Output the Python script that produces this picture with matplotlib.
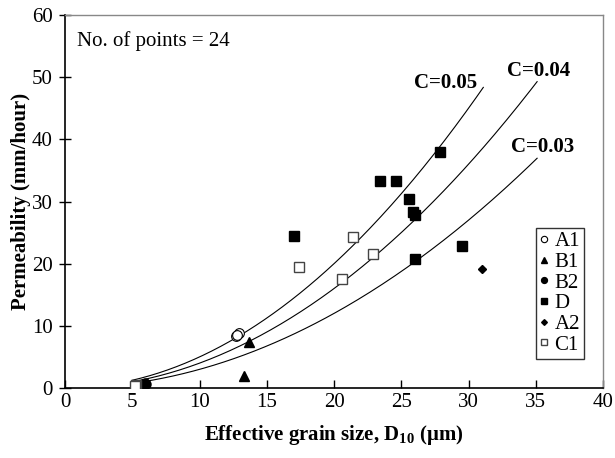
import numpy as np
import matplotlib
matplotlib.use("Agg")
import matplotlib.pyplot as plt

plt.rcParams['font.family'] = ['Liberation Serif', 'DejaVu Serif']
plt.rcParams['mathtext.fontset'] = 'custom'
plt.rcParams['mathtext.rm'] = 'Liberation Serif'
plt.rcParams['mathtext.bf'] = 'Liberation Serif:bold'

# measured points: D10 (um) vs permeability (mm/hour)
a1_x = [12.7, 12.9, 12.8]
a1_y = [8.3, 8.9, 8.6]
b1_x = [13.7, 13.3]
b1_y = [7.4, 2.0]
b2_x = [5.8, 5.95, 6.0]
b2_y = [0.6, 0.8, 0.7]
d_x = [23.4, 24.6, 25.6, 25.9, 26.0, 17.0, 26.0, 29.5, 27.9]
d_y = [33.3, 33.3, 30.4, 28.3, 27.9, 24.4, 20.8, 22.9, 37.9]
a2_x = [31.0]
a2_y = [19.1]
c1_x = [21.4, 22.9, 20.6, 17.4, 5.3, 5.2]
c1_y = [24.3, 21.6, 17.6, 19.5, 0.5, 0.3]

# Hazen type curves k = C * D10^2
c_vals = [0.05, 0.04, 0.03]
c_xmax = [31.1, 35.1, 35.1]
c_labels = ["C=0.05", "C=0.04", "C=0.03"]
c_lab_pos = [(28.3, 49.0), (35.2, 51.0), (35.5, 38.8)]

fig = plt.figure(figsize=(6.15, 4.58), dpi=100)
ax = fig.add_axes([0.1057, 0.1528, 0.8748, 0.8144])

for c, xm, lab, pos in zip(c_vals, c_xmax, c_labels, c_lab_pos):
    xs = np.linspace(5, xm, 200)
    ax.plot(xs, c * xs ** 2, color='black', lw=0.8)
    ax.text(pos[0], pos[1], lab, fontsize=15, fontweight='bold', ha='center', va='center')

ms = 6.5
ax.plot(a1_x, a1_y, 'o', mfc='white', mec='black', mew=0.8, ms=7, label='A1', zorder=3)
ax.plot(b1_x, b1_y, '^', color='black', ms=ms, label='B1', zorder=3)
ax.plot(b2_x, b2_y, 'o', color='black', ms=ms, label='B2', zorder=3)
ax.plot(d_x, d_y, 's', color='black', ms=ms, label='D', zorder=3)
ax.plot(a2_x, a2_y, 'D', color='black', ms=4.5, label='A2', zorder=3)
ax.plot(c1_x, c1_y, 's', mfc='white', mec='#444444', mew=1.0, ms=ms, label='C1', zorder=3)

ax.set_xlim(0, 40)
ax.set_ylim(0, 60)
ax.set_xticks(range(0, 41, 5))
ax.set_yticks(range(0, 61, 10))
ax.tick_params(axis='both', labelsize=15, width=1)
ax.tick_params(axis='x', direction='in', length=6)
ax.tick_params(axis='y', direction='inout', length=9, pad=4.5)
for s in ['left', 'bottom']:
    ax.spines[s].set_linewidth(1.2)
for s in ['top', 'right']:
    ax.spines[s].set_color('#888888')
    ax.spines[s].set_linewidth(1.0)

ax.set_xlabel("Effective grain size, D$_{\\mathbf{10}}$ (μm)", fontsize=15, fontweight='bold', labelpad=8)
ax.set_ylabel("Permeability (mm/hour)", fontsize=15, fontweight='bold')
ax.yaxis.set_label_coords(-0.064, 0.5)
ax.text(0.022, 0.93, "No. of points = 24", transform=ax.transAxes, fontsize=15, va='center')

leg = ax.legend(loc='upper left', bbox_to_anchor=(0.875, 0.43), fontsize=15, markerscale=0.65,
                handlelength=0.4, handletextpad=0.3, borderpad=0.2, labelspacing=0.05,
                frameon=True, fancybox=False, edgecolor='black', borderaxespad=0)
leg.get_frame().set_linewidth(1.0)

fig.savefig("out.png", dpi=100)
